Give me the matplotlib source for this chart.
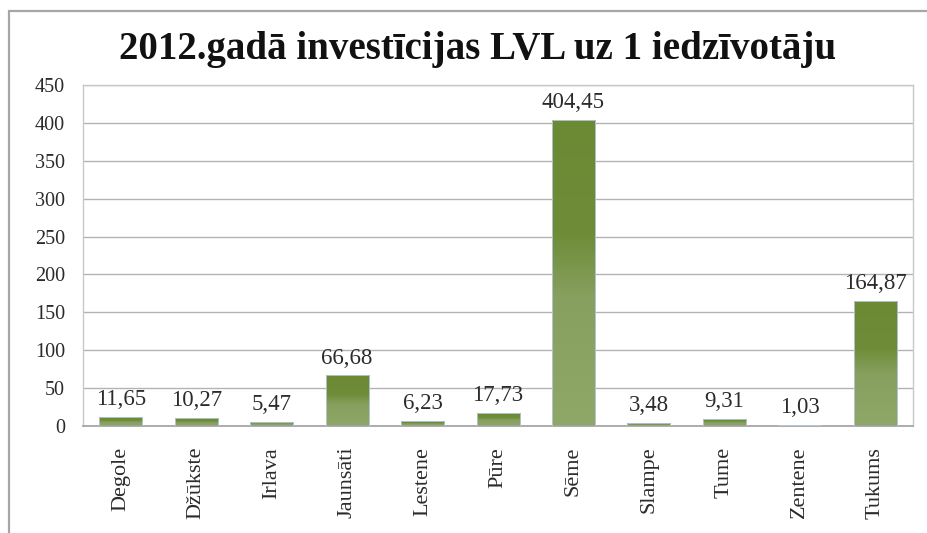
import matplotlib.pyplot as plt
import numpy as np
from matplotlib.colors import LinearSegmentedColormap
from matplotlib.patches import Rectangle

plt.rcParams['font.family'] = ['Liberation Serif', 'DejaVu Serif']

# Data
places = ['Degole', 'Džūkste', 'Irlava', 'Jaunsāti', 'Lestene', 'Pūre',
          'Sēme', 'Slampe', 'Tume', 'Zentene', 'Tukums']
values = [11.65, 10.27, 5.47, 66.68, 6.23, 17.73, 404.45, 3.48, 9.31, 1.03, 164.87]
yticks = [0, 50, 100, 150, 200, 250, 300, 350, 400, 450]

fig = plt.figure(figsize=(9.27, 5.33), dpi=100)
ax = fig.add_axes([0.0895, 0.2008, 0.8955, 0.6397])

# outer chart frame (only left/top edges are visible in the crop)
fig.patches.append(Rectangle((9 / 927, -0.1), 1.2, 1 - 11 / 533 + 0.1,
                             transform=fig.transFigure, fill=False,
                             edgecolor='#a6a6a6', linewidth=1.6))

x = np.arange(len(places))
bars = ax.bar(x, values, width=0.57, color='none', edgecolor='#b8cce4',
              linewidth=0.6, zorder=3)

# vertical green gradient inside each bar
cmap = LinearSegmentedColormap.from_list(
    'grn', [(0.0, '#6c8a34'), (0.38, '#6f8d39'), (0.58, '#87a05f'), (1.0, '#8fa868')])
grad = np.linspace(0, 1, 256).reshape(-1, 1)
for b in bars:
    x0, y0 = b.get_x(), b.get_y()
    w, h = b.get_width(), b.get_height()
    im = ax.imshow(grad, cmap=cmap, aspect='auto', extent=[x0, x0 + w, y0, y0 + h],
                   origin='upper', zorder=2)
    im.set_clip_path(b)

for xi, v in zip(x, values):
    ax.annotate(f'{v:.2f}'.replace('.', ','), (xi, v), xytext=(0, 5),
                textcoords='offset points', ha='center', va='bottom',
                fontsize=16.5, color='#2b2b2b')

ax.set_xlim(-0.5, len(places) - 0.5)
ax.set_ylim(0, 450)
ax.set_yticks(yticks)
ax.set_xticks(x)
ax.set_xticklabels(places, rotation=90, fontsize=16, color='#2b2b2b')
ax.tick_params(axis='y', length=0, pad=13, labelsize=14.5, labelcolor='#2b2b2b')
ax.tick_params(axis='x', length=0, pad=15)
ax.grid(axis='y', color='#b3b3b3', linewidth=1.0, zorder=0)
ax.set_axisbelow(True)
for s in ['left', 'top', 'right']:
    ax.spines[s].set_color('#c8c8c8')
    ax.spines[s].set_linewidth(1.0)
ax.spines['bottom'].set_color('#a0a0a0')
ax.spines['bottom'].set_linewidth(1.2)

fig.text(0.515, 0.908, '2012.gadā investīcijas LVL uz 1 iedzīvotāju',
         ha='center', va='center', fontsize=28, fontweight='bold', color='#111111')

fig.savefig('out.png', dpi=100)
